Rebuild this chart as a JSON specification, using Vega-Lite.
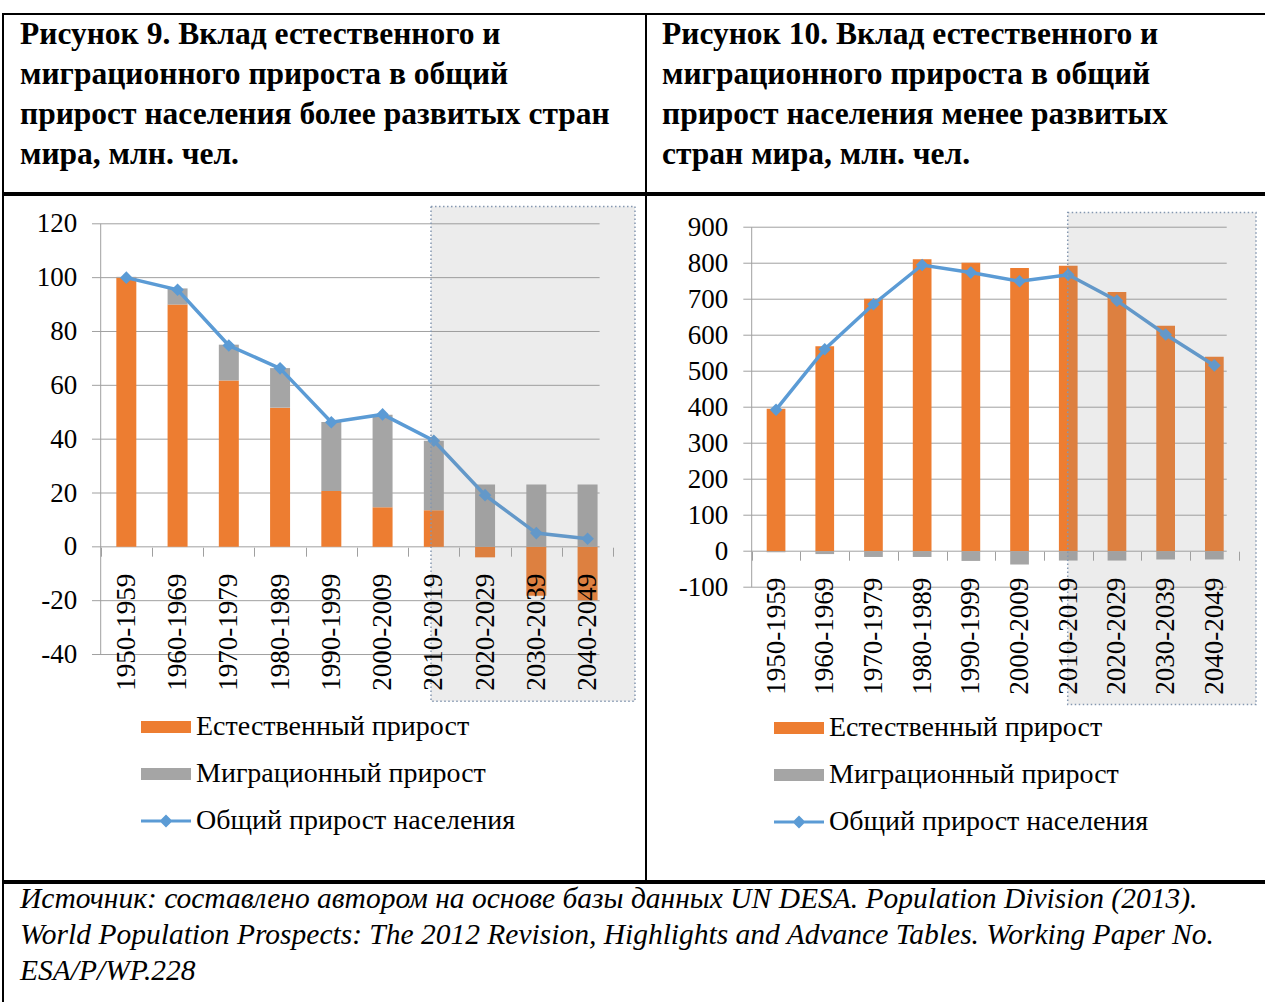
{
  "$schema": "https://vega.github.io/schema/vega-lite/v6.json",
  "padding": {"left": -12, "top": 13, "right": 0, "bottom": 0},
  "background": "white",
  "config": {
    "view": {"stroke": "#000000", "strokeWidth": 2},
    "concat": {"spacing": 0},
    "font": "Liberation Serif"
  },
  "datasets": {
    "devBars": [
      {"period": "1950-1959", "series": "Естественный прирост", "value": 100},
      {"period": "1950-1959", "series": "Миграционный прирост", "value": 0.3},
      {"period": "1960-1969", "series": "Естественный прирост", "value": 90},
      {"period": "1960-1969", "series": "Миграционный прирост", "value": 6},
      {"period": "1970-1979", "series": "Естественный прирост", "value": 61.8},
      {"period": "1970-1979", "series": "Миграционный прирост", "value": 13.3},
      {"period": "1980-1989", "series": "Естественный прирост", "value": 51.7},
      {"period": "1980-1989", "series": "Миграционный прирост", "value": 14.7},
      {"period": "1990-1999", "series": "Естественный прирост", "value": 20.7},
      {"period": "1990-1999", "series": "Миграционный прирост", "value": 25.7},
      {"period": "2000-2009", "series": "Естественный прирост", "value": 14.7},
      {"period": "2000-2009", "series": "Миграционный прирост", "value": 34.4},
      {"period": "2010-2019", "series": "Естественный прирост", "value": 13.6},
      {"period": "2010-2019", "series": "Миграционный прирост", "value": 25.8},
      {"period": "2020-2029", "series": "Естественный прирост", "value": -3.9},
      {"period": "2020-2029", "series": "Миграционный прирост", "value": 23.2},
      {"period": "2030-2039", "series": "Естественный прирост", "value": -18.2},
      {"period": "2030-2039", "series": "Миграционный прирост", "value": 23.2},
      {"period": "2040-2049", "series": "Естественный прирост", "value": -19.8},
      {"period": "2040-2049", "series": "Миграционный прирост", "value": 23.2}
    ],
    "devTotal": [
      {"period": "1950-1959", "total": 100},
      {"period": "1960-1969", "total": 95.5},
      {"period": "1970-1979", "total": 74.8},
      {"period": "1980-1989", "total": 66.3},
      {"period": "1990-1999", "total": 46.3},
      {"period": "2000-2009", "total": 49.2},
      {"period": "2010-2019", "total": 39.4},
      {"period": "2020-2029", "total": 19.2},
      {"period": "2030-2039", "total": 5.1},
      {"period": "2040-2049", "total": 3}
    ],
    "lessBars": [
      {"period": "1950-1959", "series": "Естественный прирост", "value": 396},
      {"period": "1950-1959", "series": "Миграционный прирост", "value": -3},
      {"period": "1960-1969", "series": "Естественный прирост", "value": 569},
      {"period": "1960-1969", "series": "Миграционный прирост", "value": -8},
      {"period": "1970-1979", "series": "Естественный прирост", "value": 701},
      {"period": "1970-1979", "series": "Миграционный прирост", "value": -16},
      {"period": "1980-1989", "series": "Естественный прирост", "value": 811},
      {"period": "1980-1989", "series": "Миграционный прирост", "value": -16},
      {"period": "1990-1999", "series": "Естественный прирост", "value": 801},
      {"period": "1990-1999", "series": "Миграционный прирост", "value": -27},
      {"period": "2000-2009", "series": "Естественный прирост", "value": 787},
      {"period": "2000-2009", "series": "Миграционный прирост", "value": -37},
      {"period": "2010-2019", "series": "Естественный прирост", "value": 793},
      {"period": "2010-2019", "series": "Миграционный прирост", "value": -26},
      {"period": "2020-2029", "series": "Естественный прирост", "value": 720},
      {"period": "2020-2029", "series": "Миграционный прирост", "value": -26},
      {"period": "2030-2039", "series": "Естественный прирост", "value": 626},
      {"period": "2030-2039", "series": "Миграционный прирост", "value": -23},
      {"period": "2040-2049", "series": "Естественный прирост", "value": 540},
      {"period": "2040-2049", "series": "Миграционный прирост", "value": -23}
    ],
    "lessTotal": [
      {"period": "1950-1959", "total": 393},
      {"period": "1960-1969", "total": 561},
      {"period": "1970-1979", "total": 686},
      {"period": "1980-1989", "total": 795},
      {"period": "1990-1999", "total": 774},
      {"period": "2000-2009", "total": 750},
      {"period": "2010-2019", "total": 768},
      {"period": "2020-2029", "total": 696},
      {"period": "2030-2039", "total": 602},
      {"period": "2040-2049", "total": 516}
    ],
    "gridL": [{"v": -40}, {"v": -20}, {"v": 0}, {"v": 20}, {"v": 40}, {"v": 60}, {"v": 80}, {"v": 100}, {"v": 120}],
    "gridR": [{"v": -100}, {"v": 0}, {"v": 100}, {"v": 200}, {"v": 300}, {"v": 400}, {"v": 500}, {"v": 600}, {"v": 700}, {"v": 800}, {"v": 900}],
    "titleL": [{"t": ["Рисунок 9. Вклад естественного и", "миграционного прироста в общий", "прирост населения более развитых стран", "мира, млн. чел."]}],
    "titleR": [{"t": ["Рисунок 10. Вклад естественного и", "миграционного прироста в общий", "прирост населения менее развитых", "стран мира, млн. чел."]}],
    "source": [{"t": ["Источник: составлено автором на основе базы данных UN DESA. Population Division (2013).", "World Population Prospects: The 2012 Revision, Highlights and Advance Tables. Working Paper No.", "ESA/P/WP.228"]}]
  },
  "vconcat": [
    {
      "hconcat": [
        {
          "width": 643, "height": 179,
          "data": {"name": "titleL"},
          "mark": {"type": "text", "align": "left", "baseline": "alphabetic", "dx": 17, "dy": 30, "font": "Liberation Serif", "fontWeight": "bold", "fontSize": 31.5, "lineHeight": 40, "color": "#000000"},
          "encoding": {
            "text": {"field": "t"},
            "x": {"datum": 0, "type": "quantitative", "scale": {"domain": [0, 1]}, "axis": null},
            "y": {"datum": 1, "type": "quantitative", "scale": {"domain": [0, 1]}, "axis": null}
          }
        },
        {
          "width": 625, "height": 179,
          "data": {"name": "titleR"},
          "mark": {"type": "text", "align": "left", "baseline": "alphabetic", "dx": 16, "dy": 30, "font": "Liberation Serif", "fontWeight": "bold", "fontSize": 31.5, "lineHeight": 40, "color": "#000000"},
          "encoding": {
            "text": {"field": "t"},
            "x": {"datum": 0, "type": "quantitative", "scale": {"domain": [0, 1]}, "axis": null},
            "y": {"datum": 1, "type": "quantitative", "scale": {"domain": [0, 1]}, "axis": null}
          }
        }
      ],
      "spacing": 0, "bounds": "flush"
    },
    {
      "hconcat": [
        {
          "width": 643, "height": 686,
          "layer": [
            {
              "data": {"name": "gridL"},
              "mark": {"type": "rule", "color": "#a0a0a0", "strokeWidth": 1},
              "encoding": {
                "y": {"field": "v", "type": "quantitative", "title": null,
                      "scale": {"domain": [-124.13, 130.7], "nice": false, "zero": false},
                      "axis": {"values": [-40, -20, 0, 20, 40, 60, 80, 100, 120], "labelExpr": "toString(datum.value)", "offset": -97.7, "domain": false, "ticks": false, "tickSize": 0, "grid": false, "labelPadding": 24, "labelFont": "Liberation Serif", "labelFontSize": 27, "labelColor": "#000000", "title": null}},
                "x": {"datum": "1950-1959", "type": "nominal", "bandPosition": -0.17},
                "x2": {"datum": "2040-2049", "bandPosition": 0.735}
              }
            },
            {
              "data": {"values": [{}]},
              "mark": {"type": "rule", "color": "#a0a0a0", "strokeWidth": 1},
              "encoding": {
                "x": {"datum": "1950-1959", "type": "nominal", "bandPosition": 0},
                "y": {"datum": -40, "type": "quantitative", "title": null},
                "y2": {"datum": 120}
              }
            },
            {
              "data": {"name": "devBars"},
              "mark": {"type": "bar", "width": {"band": 0.39}},
              "encoding": {
                "x": {"field": "period", "type": "nominal", "sort": null,
                      "scale": {"domain": ["1950-1959", "1960-1969", "1970-1979", "1980-1989", "1990-1999", "2000-2009", "2010-2019", "2020-2029", "2030-2039", "2040-2049"], "range": [97.7, 610.2], "paddingInner": 0, "paddingOuter": 0},
                      "axis": {"orient": "bottom", "offset": -333.8, "zindex": 1, "domain": false, "grid": false, "tickBand": "extent", "tickExtra": false, "tickSize": 9, "tickColor": "#a0a0a0", "tickWidth": 1, "labelAngle": 270, "labelAlign": "right", "labelBaseline": "middle", "labelPadding": 17, "labelFont": "Liberation Serif", "labelFontSize": 27, "labelColor": "#000000", "labelOverlap": false, "title": null}},
                "y": {"field": "value", "type": "quantitative", "stack": "zero", "title": null},
                "color": {"field": "series", "type": "nominal",
                          "scale": {"domain": ["Естественный прирост", "Миграционный прирост", "Общий прирост населения"], "range": ["#ED7D31", "#A5A5A5", "#5B9BD5"]},
                          "legend": {"orient": "none", "legendX": 149, "legendY": 518, "title": null, "direction": "vertical", "padding": 0, "symbolSize": 400, "symbolType": "M-2.5,-0.6H2.5V0.6H-2.5Z", "labelFont": "Liberation Serif", "labelFontSize": 28, "labelColor": "#000000", "labelOffset": 16, "rowPadding": 19, "labelLimit": 600,
                                     "encode": {"symbols": {"update": {
                                       "shape": {"signal": "datum.value === 'Общий прирост населения' ? 'M-2.5,-0.15H2.5V0.15H-2.5Z M0,-0.65L0.65,0L0,0.65L-0.65,0Z' : 'M-2.5,-0.6H2.5V0.6H-2.5Z'"},
                                       "fill": {"signal": "datum.value === 'Естественный прирост' ? '#ED7D31' : datum.value === 'Миграционный прирост' ? '#A5A5A5' : '#5B9BD5'"},
                                       "strokeWidth": {"value": 0},
                                       "opacity": {"value": 1},
                                       "fillOpacity": {"value": 1}}}}}},
                "order": {"field": "series", "sort": "ascending"}
              }
            },
            {
              "data": {"name": "devTotal"},
              "mark": {"type": "line", "strokeWidth": 3.5},
              "encoding": {
                "x": {"field": "period", "type": "nominal"},
                "y": {"field": "total", "type": "quantitative", "title": null},
                "color": {"datum": "Общий прирост населения"}
              }
            },
            {
              "data": {"name": "devTotal"},
              "mark": {"type": "point", "shape": "diamond", "filled": true, "size": 160, "color": "#5B9BD5", "opacity": 1},
              "encoding": {
                "x": {"field": "period", "type": "nominal"},
                "y": {"field": "total", "type": "quantitative", "title": null}
              }
            },
            {
              "data": {"values": [{}]},
              "mark": {"type": "rect", "fill": "#8c8c8c", "fillOpacity": 0.17, "stroke": "#8497B0", "strokeWidth": 1.5, "strokeDash": [1.5, 2.5]},
              "encoding": {
                "x": {"datum": "2010-2019", "type": "nominal", "bandPosition": 0.445},
                "x2": {"datum": "2040-2049", "bandPosition": 1.425},
                "y": {"datum": 126.4, "type": "quantitative"},
                "y2": {"datum": -57.4}
              }
            }
          ]
        },
        {
          "width": 625, "height": 686,
          "layer": [
            {
              "data": {"name": "gridR"},
              "mark": {"type": "rule", "color": "#a0a0a0", "strokeWidth": 1},
              "encoding": {
                "y": {"field": "v", "type": "quantitative", "title": null,
                      "scale": {"domain": [-916.14, 989.46], "nice": false, "zero": false},
                      "axis": {"values": [-100, 0, 100, 200, 300, 400, 500, 600, 700, 800, 900], "labelExpr": "toString(datum.value)", "offset": -105.7, "domain": false, "ticks": false, "tickSize": 0, "grid": false, "labelPadding": 24, "labelFont": "Liberation Serif", "labelFontSize": 27, "labelColor": "#000000", "title": null}},
                "x": {"datum": "1950-1959", "type": "nominal", "bandPosition": -0.172},
                "x2": {"datum": "2040-2049", "bandPosition": 0.754}
              }
            },
            {
              "data": {"values": [{}]},
              "mark": {"type": "rule", "color": "#a0a0a0", "strokeWidth": 1},
              "encoding": {
                "x": {"datum": "1950-1959", "type": "nominal", "bandPosition": 0},
                "y": {"datum": -100, "type": "quantitative", "title": null},
                "y2": {"datum": 900}
              }
            },
            {
              "data": {"name": "lessBars"},
              "mark": {"type": "bar", "width": {"band": 0.384}},
              "encoding": {
                "x": {"field": "period", "type": "nominal", "sort": null,
                      "scale": {"domain": ["1950-1959", "1960-1969", "1970-1979", "1980-1989", "1990-1999", "2000-2009", "2010-2019", "2020-2029", "2030-2039", "2040-2049"], "range": [105.7, 592.7], "paddingInner": 0, "paddingOuter": 0},
                      "axis": {"orient": "bottom", "offset": -329.8, "zindex": 1, "domain": false, "grid": false, "tickBand": "extent", "tickExtra": false, "tickSize": 9, "tickColor": "#a0a0a0", "tickWidth": 1, "labelAngle": 270, "labelAlign": "right", "labelBaseline": "middle", "labelPadding": 17, "labelFont": "Liberation Serif", "labelFontSize": 27, "labelColor": "#000000", "labelOverlap": false, "title": null}},
                "y": {"field": "value", "type": "quantitative", "stack": "zero", "title": null},
                "color": {"field": "series", "type": "nominal",
                          "scale": {"domain": ["Естественный прирост", "Миграционный прирост", "Общий прирост населения"], "range": ["#ED7D31", "#A5A5A5", "#5B9BD5"]},
                          "legend": {"orient": "none", "legendX": 139, "legendY": 519, "title": null, "direction": "vertical", "padding": 0, "symbolSize": 400, "symbolType": "M-2.5,-0.6H2.5V0.6H-2.5Z", "labelFont": "Liberation Serif", "labelFontSize": 28, "labelColor": "#000000", "labelOffset": 16, "rowPadding": 19, "labelLimit": 600,
                                     "encode": {"symbols": {"update": {
                                       "shape": {"signal": "datum.value === 'Общий прирост населения' ? 'M-2.5,-0.15H2.5V0.15H-2.5Z M0,-0.65L0.65,0L0,0.65L-0.65,0Z' : 'M-2.5,-0.6H2.5V0.6H-2.5Z'"},
                                       "fill": {"signal": "datum.value === 'Естественный прирост' ? '#ED7D31' : datum.value === 'Миграционный прирост' ? '#A5A5A5' : '#5B9BD5'"},
                                       "strokeWidth": {"value": 0},
                                       "opacity": {"value": 1},
                                       "fillOpacity": {"value": 1}}}}}},
                "order": {"field": "series", "sort": "ascending"}
              }
            },
            {
              "data": {"name": "lessTotal"},
              "mark": {"type": "line", "strokeWidth": 3.5},
              "encoding": {
                "x": {"field": "period", "type": "nominal"},
                "y": {"field": "total", "type": "quantitative", "title": null},
                "color": {"datum": "Общий прирост населения"}
              }
            },
            {
              "data": {"name": "lessTotal"},
              "mark": {"type": "point", "shape": "diamond", "filled": true, "size": 160, "color": "#5B9BD5", "opacity": 1},
              "encoding": {
                "x": {"field": "period", "type": "nominal"},
                "y": {"field": "total", "type": "quantitative", "title": null}
              }
            },
            {
              "data": {"values": [{}]},
              "mark": {"type": "rect", "fill": "#8c8c8c", "fillOpacity": 0.17, "stroke": "#8497B0", "strokeWidth": 1.5, "strokeDash": [1.5, 2.5]},
              "encoding": {
                "x": {"datum": "2010-2019", "type": "nominal", "bandPosition": 0.489},
                "x2": {"datum": "2040-2049", "bandPosition": 1.355},
                "y": {"datum": 940.8, "type": "quantitative"},
                "y2": {"datum": -425.8}
              }
            }
          ]
        }
      ],
      "spacing": 0, "bounds": "flush",
      "resolve": {"scale": {"color": "independent"}, "legend": {"color": "independent"}}
    },
    {
      "width": 1268, "height": 126,
      "data": {"name": "source"},
      "mark": {"type": "text", "align": "left", "baseline": "alphabetic", "dx": 17, "dy": 25, "font": "Liberation Serif", "fontStyle": "italic", "fontSize": 29.5, "lineHeight": 36, "color": "#000000"},
      "encoding": {
        "text": {"field": "t"},
        "x": {"datum": 0, "type": "quantitative", "scale": {"domain": [0, 1]}, "axis": null},
        "y": {"datum": 1, "type": "quantitative", "scale": {"domain": [0, 1]}, "axis": null}
      }
    }
  ],
  "spacing": 0,
  "resolve": {"scale": {"color": "independent"}, "legend": {"color": "independent"}}
}
